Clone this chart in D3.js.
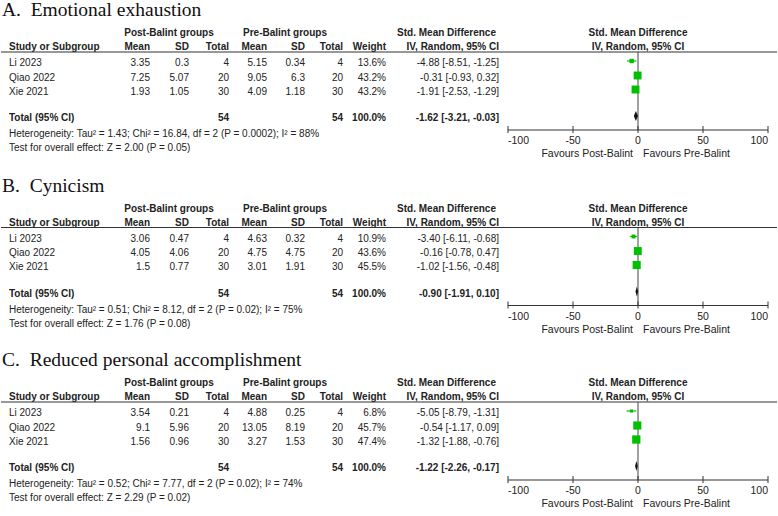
<!DOCTYPE html>
<html>
<head>
<meta charset="utf-8">
<script src="https://cdn.jsdelivr.net/npm/d3@7"></script>
<style>
	body { margin: 0; background: #fff; }
	svg { display: block; }
	text { white-space: pre; }
</style>
</head>
<body>
<script>

// ------------------------ DATA ------------------------
var panelTitles = ['A.  Emotional exhaustion', 'B.  Cynicism', 'C.  Reduced personal accomplishment'];
var studies = ['Li 2023', 'Qiao 2022', 'Xie 2021'];

// post-Balint groups
var postMean = [[3.35, 7.25, 1.93], [3.06, 4.05, 1.5], [3.54, 9.1, 1.56]];
var postSD = [[0.3, 5.07, 1.05], [0.47, 4.06, 0.77], [0.21, 5.96, 0.96]];
var postN = [4, 20, 30];

// pre-Balint groups
var preMean = [[5.15, 9.05, 4.09], [4.63, 4.75, 3.01], [4.88, 13.05, 3.27]];
var preSD = [[0.34, 6.3, 1.18], [0.32, 4.75, 1.91], [0.25, 8.19, 1.53]];
var preN = [4, 20, 30];

var weights = [[13.6, 43.2, 43.2], [10.9, 43.6, 45.5], [6.8, 45.7, 47.4]];
var smd = [[-4.88, -0.31, -1.91], [-3.40, -0.16, -1.02], [-5.05, -0.54, -1.32]];
var ciLow = [[-8.51, -0.93, -2.53], [-6.11, -0.78, -1.56], [-8.79, -1.17, -1.88]];
var ciHigh = [[-1.25, 0.32, -1.29], [-0.68, 0.47, -0.48], [-1.31, 0.09, -0.76]];

var totalSMD = [-1.62, -0.90, -1.22];
var totalLow = [-3.21, -1.91, -2.26];
var totalHigh = [-0.03, 0.10, -0.17];
var totalN = [54, 54, 54];

var heterogeneity = [
	'Heterogeneity: Tau\u00b2 = 1.43; Chi\u00b2 = 16.84, df = 2 (P = 0.0002); I\u00b2 = 88%',
	'Heterogeneity: Tau\u00b2 = 0.51; Chi\u00b2 = 8.12, df = 2 (P = 0.02); I\u00b2 = 75%',
	'Heterogeneity: Tau\u00b2 = 0.52; Chi\u00b2 = 7.77, df = 2 (P = 0.02); I\u00b2 = 74%'
];
var overallTest = [
	'Test for overall effect: Z = 2.00 (P = 0.05)',
	'Test for overall effect: Z = 1.76 (P = 0.08)',
	'Test for overall effect: Z = 2.29 (P = 0.02)'
];

var xTicks = [-100, -50, 0, 50, 100];

// ------------------------ LAYOUT ------------------------
var WIDTH = 778, HEIGHT = 516;
var FONT = 'Arial, "Liberation Sans", sans-serif';
var INK = '#222';
var GREEN = '#00c000';

// y of header rule in each panel, everything else hangs off it
var panelTop = [52, 227.5, 402];
var rowY = [10, 24.5, 38.5];

// right edges of the table columns
var COL = { study: 9, mean1: 150, sd1: 189, n1: 229, mean2: 267, sd2: 305, n2: 343, weight: 386, ci: 499 };

var x = d3.scaleLinear().domain([-100, 100]).range([508, 768]);

var svg = d3.select('body')
	.append('svg')
	.attr('width', WIDTH)
	.attr('height', HEIGHT);

function txt(g, s, xx, yy, anchor, bold, size) {
	return g.append('text')
		.attr('x', xx)
		.attr('y', yy)
		.attr('text-anchor', anchor || 'start')
		.attr('font-family', FONT)
		.attr('font-size', size || 10)
		.attr('font-weight', bold ? 'bold' : 'normal')
		.attr('fill', INK)
		.text(s);
}

function fmtCI(m, lo, hi) {
	return m.toFixed(2) + ' [' + lo.toFixed(2) + ', ' + hi.toFixed(2) + ']';
}

panelTitles.forEach(function(title, p) {
	var U = panelTop[p];
	var g = svg.append('g');

	// panel title, serif like the original figure
	g.append('text')
		.attr('x', 2)
		.attr('y', U - 36)
		.attr('font-family', '"Times New Roman", "Liberation Serif", serif')
		.attr('font-size', 19.5)
		.attr('fill', '#111')
		.text(title);

	// ---- headers ----
	txt(g, 'Post-Balint groups', 169, U - 16, 'middle', true);
	txt(g, 'Pre-Balint groups', 285, U - 16, 'middle', true);
	txt(g, 'Std. Mean Difference', 496, U - 16, 'end', true);
	txt(g, 'Std. Mean Difference', x(0), U - 16, 'middle', true);

	txt(g, 'Study or Subgroup', COL.study, U - 2, 'start', true);
	txt(g, 'Mean', COL.mean1, U - 2, 'end', true);
	txt(g, 'SD', COL.sd1, U - 2, 'end', true);
	txt(g, 'Total', COL.n1, U - 2, 'end', true);
	txt(g, 'Mean', COL.mean2, U - 2, 'end', true);
	txt(g, 'SD', COL.sd2, U - 2, 'end', true);
	txt(g, 'Total', COL.n2, U - 2, 'end', true);
	txt(g, 'Weight', COL.weight, U - 2, 'end', true);
	txt(g, 'IV, Random, 95% CI', COL.ci, U - 2, 'end', true);
	txt(g, 'IV, Random, 95% CI', x(0), U - 2, 'middle', true);

	g.append('line')
		.attr('x1', 1).attr('x2', 777)
		.attr('y1', U).attr('y2', U)
		.attr('stroke', '#333').attr('stroke-width', 1.2);

	// ---- study rows ----
	studies.forEach(function(s, i) {
		var yy = U + rowY[i] + 4;
		txt(g, s, COL.study, yy);
		txt(g, String(postMean[p][i]), COL.mean1, yy, 'end');
		txt(g, String(postSD[p][i]), COL.sd1, yy, 'end');
		txt(g, String(postN[i]), COL.n1, yy, 'end');
		txt(g, String(preMean[p][i]), COL.mean2, yy, 'end');
		txt(g, String(preSD[p][i]), COL.sd2, yy, 'end');
		txt(g, String(preN[i]), COL.n2, yy, 'end');
		txt(g, weights[p][i].toFixed(1) + '%', COL.weight, yy, 'end');
		txt(g, fmtCI(smd[p][i], ciLow[p][i], ciHigh[p][i]), COL.ci, yy, 'end');
	});

	// ---- total row ----
	var ty = U + 65 + 4;
	txt(g, 'Total (95% CI)', COL.study, ty, 'start', true);
	txt(g, String(totalN[p]), COL.n1, ty, 'end', true);
	txt(g, String(totalN[p]), COL.n2, ty, 'end', true);
	txt(g, '100.0%', COL.weight, ty, 'end', true);
	txt(g, fmtCI(totalSMD[p], totalLow[p], totalHigh[p]), COL.ci, ty, 'end', true);

	txt(g, heterogeneity[p], COL.study, U + 81 + 4);
	txt(g, overallTest[p], COL.study, U + 95 + 4);

	// ---- forest plot ----
	var axisY = U + 78;

	// line of no effect
	g.append('line')
		.attr('x1', x(0)).attr('x2', x(0))
		.attr('y1', U).attr('y2', axisY)
		.attr('stroke', '#444').attr('stroke-width', 1);

	// CI whiskers + weighted squares
	var rows = studies.map(function(s, i) {
		return { y: U + rowY[i] - 1, m: smd[p][i], lo: ciLow[p][i], hi: ciHigh[p][i], w: weights[p][i] };
	});

	g.selectAll('.ci')
		.data(rows)
		.enter()
		.append('line')
		.attr('x1', function(d) { return x(d.lo); })
		.attr('x2', function(d) { return x(d.hi); })
		.attr('y1', function(d) { return d.y; })
		.attr('y2', function(d) { return d.y; })
		.attr('stroke', GREEN)
		.attr('stroke-width', 1.2);

	g.selectAll('.sq')
		.data(rows)
		.enter()
		.append('rect')
		.attr('width', function(d) { return 12 * Math.sqrt(d.w / 100); })
		.attr('height', function(d) { return 12 * Math.sqrt(d.w / 100); })
		.attr('x', function(d) { return x(d.m) - 6 * Math.sqrt(d.w / 100); })
		.attr('y', function(d) { return d.y - 6 * Math.sqrt(d.w / 100); })
		.attr('fill', GREEN);

	// pooled diamond
	var dy = U + 64;
	g.append('polygon')
		.attr('points', [
			[x(totalLow[p]), dy],
			[x(totalSMD[p]), dy - 5],
			[x(totalHigh[p]), dy],
			[x(totalSMD[p]), dy + 5]
		].map(function(pt) { return pt.join(','); }).join(' '))
		.attr('fill', '#111');

	// axis
	g.append('line')
		.attr('x1', x(-100)).attr('x2', x(100))
		.attr('y1', axisY).attr('y2', axisY)
		.attr('stroke', '#333').attr('stroke-width', 1.2);

	g.selectAll('.tick')
		.data(xTicks)
		.enter()
		.append('line')
		.attr('x1', function(d) { return x(d); })
		.attr('x2', function(d) { return x(d); })
		.attr('y1', axisY - 4)
		.attr('y2', axisY + 3)
		.attr('stroke', '#333');

	// end labels are pulled inward like RevMan does
	xTicks.forEach(function(t, k) {
		var a = k === 0 ? 'start' : (k === xTicks.length - 1 ? 'end' : 'middle');
		txt(g, String(t), x(t), axisY + 14, a, false, 10.5);
	});

	txt(g, 'Favours Post-Balint', x(0) - 5, U + 101 + 4, 'end', false, 10.5);
	txt(g, 'Favours Pre-Balint', x(0) + 5, U + 101 + 4, 'start', false, 10.5);
});

</script>
</body>
</html>
